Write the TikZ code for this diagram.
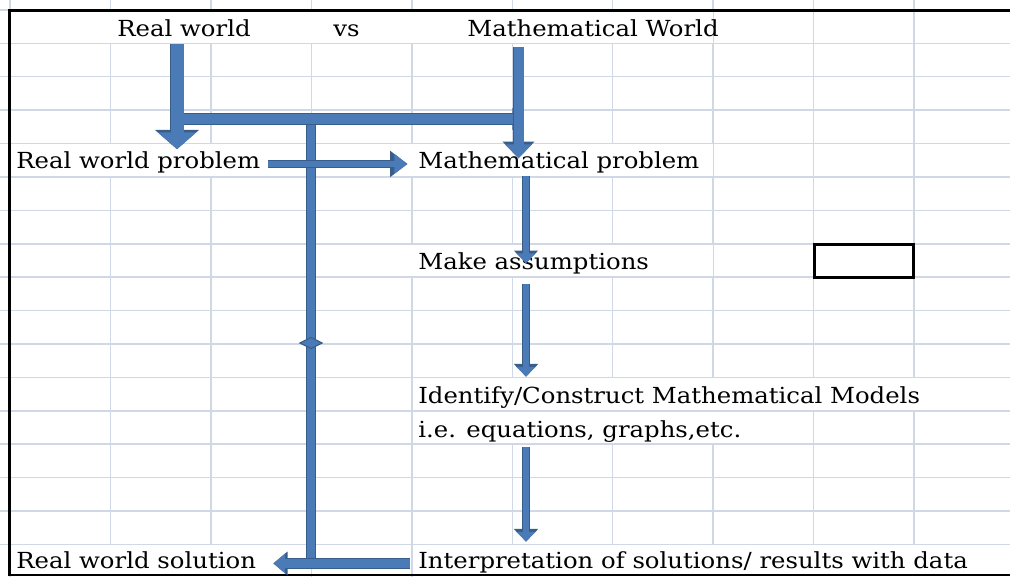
\documentclass[tikz,border=0pt]{standalone}
\usepackage{fontspec}
\setmainfont{DejaVu Serif}[FakeStretch=1.1]
\usetikzlibrary{arrows.meta,shapes.geometric}
\definecolor{gridblue}{HTML}{D0D7E5}
\definecolor{arrowfill}{HTML}{4B7BB6}
\definecolor{arrowedge}{HTML}{385D8A}
\newcommand\cellfont{\fontsize{12.6}{15}\selectfont}

\begin{document}
\begin{tikzpicture}[
  x=0.02cm, y=-0.02cm,
  every node/.style={inner sep=0pt, anchor=base west, font=\cellfont,
    text height=14.8pt, text depth=4pt},
  gridline/.style={draw=gridblue, line width=0.8pt},
  cellmask/.style={fill=white},
  blockarrow/.style={draw=arrowfill, line width=#1,
    preaction={draw=arrowedge, line width=#1+1.1pt}},
  emptycell/.style={draw=black, line width=1.4pt, anchor=center,
    minimum width=56.5pt, minimum height=18.6pt, text height=, text depth=}
]
\useasboundingbox (0,0) rectangle (1010,577);
\clip (0,0) rectangle (1010,577);

%% Sheet grid
\foreach \i in {0,...,10}
  \draw[gridline] ({10+100.45*\i},0) -- ({10+100.45*\i},577);
\foreach \j in {0,...,17}
  \draw[gridline] (0,{10+33.4*\j}) -- (1010,{10+33.4*\j});

%% Cells with overflowing text hide the grid
\fill[cellmask] (11,10.8) rectangle (712.5,42.6);
\fill[cellmask] (11,144.4) rectangle (712.5,176.2);
\fill[cellmask] (405,244.6) rectangle (712.5,276.4);
\fill[cellmask] (413,378.2) rectangle (1010,410);
\fill[cellmask] (413,411.6) rectangle (813,443.4);
\fill[cellmask] (11,545.2) rectangle (310,577);
\fill[cellmask] (413,545.2) rectangle (1010,577);

%% Sheet border
\draw[line width=1.7pt] (9.5,10.5) rectangle (1030,575);

%% Row 1: titles
\node (rwTitle) at (117,36.5) {Real world};
\node (vsLabel) at (333,36.5) {vs};
\node (mwTitle) at (467,36.5) {Mathematical World};

%% Left column: real world
\node (rwProblem) at (16,168.5) {Real world problem};
\node (rwSolution) at (16,568) {Real world solution};

%% Right column: mathematical steps
\node (mProblem) at (418,168.5) {Mathematical problem};
\node (assume) at (418,270) {Make assumptions};
\node (identify) at (418,403) {Identify/Construct Mathematical Models};
\node (examples) at (418,437) {i.e. equations, graphs,etc.};
\node (interpret) at (418,568) {Interpretation of solutions/ results with data};

\node[emptycell] (spare) at (864,261) {};

%% Junction points of the T
\coordinate (leftDrop) at (177,0);
\coordinate (rightDrop) at (518.5,0);
\coordinate (barL) at (173,119);
\coordinate (barR) at (522,119);
\coordinate (stemTop) at (311,122);
\coordinate (mathAxis) at (526,0);

%% Stem of the T down to the solution row
\draw[blockarrow=5.1pt] (stemTop) -- (stemTop |- interpret.mid west);
\node[diamond, fill=arrowfill, draw=arrowedge, line width=0.6pt, anchor=center,
  minimum width=13pt, minimum height=6.5pt, text height=, text depth=]
  (stemMark) at (311,343) {};

%% Cross bar and the two drops
\draw[blockarrow=5.7pt, {Triangle[width=0pt 1.8,length=0pt 0.8]}-{Triangle[width=0pt 1.8,length=0pt 0.8]}]
  (barL) -- (barR);
\draw[blockarrow=7.4pt, -{Triangle[width=0pt 2.9,length=0pt 1.3]}, shorten >=8.4pt]
  (leftDrop |- rwTitle.south) -- (leftDrop |- rwProblem.mid);
\draw[blockarrow=5.7pt, -{Triangle[width=0pt 2.6,length=0pt 1.4]}, shorten <=2pt, shorten >=3.2pt]
  (rightDrop |- mwTitle.south) -- (rightDrop |- mProblem.mid);

%% Problem to problem
\draw[blockarrow=3.4pt, -{Triangle[width=0pt 3.2,length=0pt 2.2]}, shorten <=4.5pt, shorten >=6pt]
  (rwProblem.mid east) -- (mProblem.mid west);

%% Down the mathematical side
\draw[blockarrow=3.7pt, -{Triangle[width=0pt 2.8,length=0pt 1.5]}, shorten >=1.3pt]
  (mathAxis |- mProblem.south) -- (mathAxis |- assume.mid);
\draw[blockarrow=3.7pt, -{Triangle[width=0pt 2.8,length=0pt 1.5]}, shorten <=4pt]
  (mathAxis |- assume.south) -- (mathAxis |- identify.north);
\draw[blockarrow=3.7pt, -{Triangle[width=0pt 2.8,length=0pt 1.5]}, shorten <=1.7pt]
  (mathAxis |- examples.south) -- (mathAxis |- interpret.north);

%% Back to the real world
\draw[blockarrow=5.1pt, -{Triangle[width=0pt 2.1,length=0pt 1.3]}, shorten <=4.5pt, shorten >=9.7pt]
  (interpret.mid west) -- (rwSolution.mid east);

\end{tikzpicture}
\end{document}
